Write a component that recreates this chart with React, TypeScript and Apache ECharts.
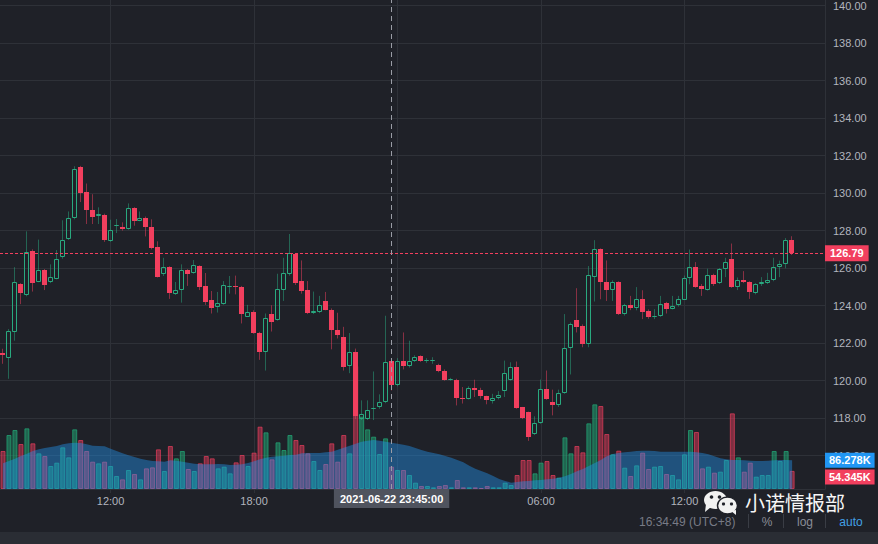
import React, { useEffect, useRef } from "react";
import * as echarts from "echarts";

// ---- time axis ----
const START_MINUTES = 7 * 60 + 30; // first candle 07:30
const STEP_MINUTES = 15;
const SLOT_COUNT = 138; // candles + empty space on the right
const TICK_LABELS = ["12:00", "18:00", "06:00"];
const GRID_TIMES = ["00:00", "06:00", "12:00", "18:00"];

// ---- price candles ----
const OPEN = [121.45,121.2,122.62,125.14,124.55,126.9,125.28,125.88,125.24,125.44,126.6,127.56,128.67,131.41,130.08,129.11,128.78,128.81,127.42,128.22,128.21,128.11,129.22,128.53,128.69,128.21,127.12,125.7,126.05,124.64,124.82,125.88,125.72,126.09,125.03,124.29,123.95,124.11,125.0,125.05,124.98,123.42,123.67,122.54,121.51,123.55,123.23,124.82,125.7,126.74,125.31,124.84,123.63,123.68,124.25,123.78,122.71,122.34,120.77,121.55,117.97,117.98,118.5,118.59,118.86,121.05,119.76,121.07,120.77,121.03,121.32,121.05,121.03,120.86,120.54,120.03,120.06,119.07,119.04,119.62,119.48,119.16,118.91,119.07,119.44,120.05,120.75,118.58,118.31,117.18,117.75,119.57,118.88,118.7,119.36,121.74,123.23,122.91,121.96,125.5,127.0,125.26,124.82,125.26,123.55,124.04,123.9,124.34,123.71,123.42,123.44,124.13,123.84,124.02,124.32,125.46,126.05,125.05,124.85,125.63,125.22,125.93,126.46,125.01,125.37,125.26,124.69,125.14,125.22,125.38,126.05,126.2,127.52];
const CLOSE = [121.35,122.65,125.26,124.69,126.85,125.22,125.88,125.1,125.52,126.51,127.52,128.69,131.29,129.99,129.09,128.72,128.86,127.5,128.02,128.3,128.09,129.22,128.53,128.69,128.21,127.08,125.54,126.05,124.69,124.84,125.88,125.7,126.15,125.01,124.22,123.9,124.13,125.08,125.05,125.0,123.53,123.65,122.52,121.51,123.33,123.15,124.87,125.72,126.83,125.22,124.78,123.63,123.7,124.02,123.79,122.68,122.41,120.72,121.55,118.1,118.24,118.46,118.56,118.88,121.0,119.76,121.05,120.77,121.07,121.28,121.03,121.08,121.12,120.5,120.05,120.07,119.07,119.02,119.62,119.48,119.18,118.95,119.06,119.25,120.42,120.75,118.54,118.01,117.0,117.75,119.57,119.02,118.7,119.36,121.74,123.02,122.84,121.96,125.61,127.0,125.28,124.82,125.26,123.55,124.04,123.9,124.34,123.65,123.42,123.46,124.08,123.84,124.0,124.34,125.46,126.05,125.01,124.9,125.63,125.14,125.93,126.32,125.01,125.37,125.26,124.73,125.14,125.26,125.35,126.05,126.21,127.52,126.79];
const HIGH = [121.7,122.75,126.05,125.2,127.96,127.0,127.52,125.95,126.2,126.96,128.55,129.02,131.43,131.45,130.51,129.94,129.24,128.9,128.58,128.62,128.44,129.45,129.25,129.02,128.75,128.6,127.43,126.55,126.1,125.26,126.2,125.95,126.43,126.15,125.74,124.78,124.73,125.31,125.58,125.6,125.05,124.04,123.75,122.6,123.58,124.02,125.7,126.55,127.82,126.8,126.41,125.31,124.75,124.52,124.73,123.85,123.62,122.87,122.54,121.71,118.95,118.95,120.49,119.27,123.46,121.1,121.2,122.57,122.13,121.35,121.35,121.2,121.25,120.9,120.6,120.15,120.1,119.66,119.7,120.05,119.62,119.2,119.3,119.44,121.07,120.98,121.02,118.6,118.35,118.1,120.06,120.54,119.52,119.52,123.55,123.1,124.93,123.0,126.11,127.49,127.05,126.41,125.35,125.3,124.1,124.52,124.99,124.82,123.8,123.81,124.52,124.2,124.52,124.52,125.6,126.99,126.32,125.15,125.97,125.7,126.0,126.55,127.31,125.5,125.84,125.3,125.2,125.52,125.75,126.55,126.4,127.6,127.7];
const LOW = [120.9,120.1,122.13,124.08,124.5,124.75,125.25,124.83,125.2,125.4,126.5,127.5,128.6,129.52,128.35,128.35,128.35,127.4,127.4,127.87,128.0,128.05,128.26,128.5,127.69,127.0,125.5,125.58,124.36,124.57,124.16,125.05,125.7,124.83,124.04,123.58,123.63,124.05,124.64,124.6,123.05,123.4,122.5,121.11,120.54,122.62,123.2,124.25,125.6,125.1,124.64,123.55,123.55,123.6,123.75,121.67,122.25,120.54,120.4,117.95,117.9,117.9,117.9,118.5,118.8,119.48,119.7,120.6,120.7,121.0,121.0,120.95,120.9,120.45,120.0,120.0,118.68,118.78,119.0,119.13,119.04,118.74,118.78,119.0,119.13,120.0,118.5,117.95,116.79,117.1,117.7,118.98,118.15,118.6,119.3,120.33,122.57,121.78,121.78,124.22,124.34,124.25,124.25,123.5,123.47,123.76,123.75,123.28,123.3,123.28,123.4,123.58,123.8,123.95,124.3,125.14,124.95,124.52,124.8,125.05,125.15,125.52,124.95,124.83,125.2,124.36,124.6,125.05,125.15,125.3,125.52,125.99,126.7];

// ---- volume (thousands) and its moving average ----
const VOLUME = [114,162,177,135,182,137,107,99,69,79,125,95,179,147,114,82,77,82,69,39,29,57,45,29,62,65,119,54,129,92,114,60,54,77,99,92,62,67,47,80,102,69,109,187,170,89,140,117,162,147,132,107,84,57,75,137,82,162,107,369,217,179,157,105,152,67,57,57,42,19,9,9,5,9,12,5,27,5,5,5,3,9,5,5,19,12,42,87,87,47,79,84,42,34,155,107,129,110,197,254,249,165,104,115,64,39,71,109,60,67,69,45,42,29,104,177,171,62,67,49,52,87,227,95,52,79,37,42,42,114,84,114,54.345];
const VOLUME_MA = [77,84,91,99,106,114,119,123,126,129,134,137,139,138,134,130,129,128,121,114,107,101,96,91,87,84,83,82,86,85,82,79,76,74,74,74,75,74,72,73,74,78,83,89,94,97,98,100,102,103,107,108,108,108,110,112,118,124,130,136,142,145,147,145,142,139,136,133,129,123,117,112,108,104,99,94,87,80,70,61,54,47,39,30,24,19,21,23,24,26,27,29,31,34,38,45,53,60,69,78,87,98,105,108,110,112,114,115,115,114,112,112,112,112,112,112,110,108,104,98,92,89,87,87,86,85,84,84,85,86,87,87,86.278];

const LAST_PRICE = 126.79;
const CROSSHAIR_INDEX = 65;
const CROSSHAIR_LABEL = "2021-06-22 23:45:00";
const STATUS_TIME = "16:34:49 (UTC+8)";
const WATERMARK = "小诺情报部";

const BG = "#1f2128";
const GRID = "#2e3138";
const AXIS_TEXT = "#b2b5be";
const UP = "#29a97f";
const DOWN = "#f23f5e";
const UP_WICK = "rgba(41,169,127,0.5)";
const DOWN_WICK = "rgba(242,63,94,0.5)";
const FONT = "Liberation Sans, Arial, sans-serif";

function pad(n: number) {
  return n < 10 ? "0" + n : String(n);
}
const CATEGORIES: string[] = [];
for (let k = 0; k < SLOT_COUNT; k++) {
  const m = (START_MINUTES + k * STEP_MINUTES) % 1440;
  CATEGORIES.push(pad(Math.floor(m / 60)) + ":" + pad(m % 60));
}

function boxLabel(text: string, bg: string, pos: string, extra: any = {}) {
  return {
    show: true,
    position: pos,
    distance: 0,
    formatter: () => text,
    backgroundColor: bg,
    color: "#ffffff",
    fontSize: 11,
    fontWeight: "bold",
    fontFamily: FONT,
    padding: [2, 5, 2, 5],
    ...extra,
  };
}

export default function App() {
  const ref = useRef<HTMLDivElement>(null);
  useEffect(() => {
    if (!ref.current) return;
    const chart = echarts.init(ref.current, undefined, { renderer: "svg" });

    const candleData = OPEN.map((o, i) => [i, o, CLOSE[i], LOW[i], HIGH[i]]);
    const volData = VOLUME.map((v, i) => {
      const up = CLOSE[i] >= OPEN[i];
      return {
        value: v,
        itemStyle: {
          color: up ? "rgba(34,171,120,0.5)" : "rgba(242,63,95,0.45)",
          borderColor: up ? "rgba(34,171,120,0.7)" : "rgba(242,63,95,0.65)",
          borderWidth: 1,
        },
      };
    });
    const lastVol = VOLUME[VOLUME.length - 1];
    const lastMa = VOLUME_MA[VOLUME_MA.length - 1];

    const isLabel = (i: number) => TICK_LABELS.indexOf(CATEGORIES[i]) >= 0;
    const isGrid = (i: number) => GRID_TIMES.indexOf(CATEGORIES[i]) >= 0;

    const option: any = {
      animation: false,
      backgroundColor: BG,
      grid: [
        { left: -3, width: 828, top: 3, height: 452.7 },
        { left: -3, width: 828, top: 0, height: 489 },
      ],
      xAxis: [
        { type: "category", gridIndex: 0, data: CATEGORIES, boundaryGap: true, show: false },
        {
          type: "category",
          gridIndex: 1,
          data: CATEGORIES,
          boundaryGap: true,
          axisLine: { show: true, lineStyle: { color: GRID } },
          axisTick: {
            show: true,
            alignWithLabel: true,
            length: 4,
            interval: (i: number) => isLabel(i),
            lineStyle: { color: GRID },
          },
          axisLabel: {
            interval: (i: number) => isLabel(i),
            color: AXIS_TEXT,
            fontSize: 11,
            fontFamily: FONT,
            margin: 6,
          },
          splitLine: {
            show: true,
            alignWithLabel: true,
            interval: (i: number) => isGrid(i),
            lineStyle: { color: GRID, width: 1 },
          },
        },
      ],
      yAxis: [
        {
          type: "value",
          gridIndex: 0,
          position: "right",
          min: 116,
          max: 140,
          interval: 2,
          axisLine: { show: false },
          axisTick: { show: false },
          axisLabel: {
            color: AXIS_TEXT,
            fontSize: 11,
            fontFamily: FONT,
            margin: 8,
            formatter: (v: number) => v.toFixed(2),
          },
          splitLine: { show: true, lineStyle: { color: GRID, width: 1 } },
        },
        {
          type: "value",
          gridIndex: 1,
          position: "right",
          min: 0,
          max: 1467,
          axisLine: { show: true, lineStyle: { color: GRID } },
          axisTick: { show: false },
          axisLabel: { show: false },
          splitLine: { show: false },
        },
      ],
      series: [
        {
          type: "bar",
          name: "volume",
          xAxisIndex: 1,
          yAxisIndex: 1,
          data: volData,
          barWidth: 5,
          z: 1,
        },
        {
          type: "line",
          name: "volume ma",
          xAxisIndex: 1,
          yAxisIndex: 1,
          data: VOLUME_MA,
          symbol: "none",
          lineStyle: { width: 0 },
          areaStyle: { color: "rgba(33,150,243,0.42)", opacity: 1 },
          z: 2,
        },
        {
          type: "custom",
          name: "price",
          xAxisIndex: 0,
          yAxisIndex: 0,
          data: candleData,
          encode: { x: 0, y: [1, 2, 3, 4] },
          clip: true,
          z: 3,
          renderItem: (params: any, api: any) => {
            const idx = api.value(0);
            const o = api.value(1);
            const c = api.value(2);
            const l = api.value(3);
            const h = api.value(4);
            const pO = api.coord([idx, o]);
            const pC = api.coord([idx, c]);
            const pL = api.coord([idx, l]);
            const pH = api.coord([idx, h]);
            const cx = Math.round(pO[0]);
            const up = c >= o;
            const top = Math.round(Math.min(pO[1], pC[1]));
            let bot = Math.round(Math.max(pO[1], pC[1]));
            if (bot - top < 1) bot = top + 1;
            const wx = cx - 0.5;
            const wick = up ? UP_WICK : DOWN_WICK;
            const children: any[] = [];
            if (pH[1] < top) {
              children.push({
                type: "line",
                shape: { x1: wx, y1: pH[1], x2: wx, y2: top },
                style: { stroke: wick, lineWidth: 1 },
              });
            }
            if (pL[1] > bot) {
              children.push({
                type: "line",
                shape: { x1: wx, y1: bot, x2: wx, y2: pL[1] },
                style: { stroke: wick, lineWidth: 1 },
              });
            }
            if (up) {
              children.push({
                type: "rect",
                shape: { x: cx - 2.5, y: top + 0.5, width: 4, height: Math.max(bot - top - 1, 0) },
                style: { fill: "transparent", stroke: UP, lineWidth: 1 },
              });
            } else {
              children.push({
                type: "rect",
                shape: { x: cx - 3, y: top, width: 5, height: bot - top },
                style: { fill: DOWN },
              });
            }
            return { type: "group", children };
          },
        },
        {
          // last price dashed line, pixel-aligned
          type: "custom",
          name: "last price line",
          xAxisIndex: 0,
          yAxisIndex: 0,
          data: [[0, LAST_PRICE]],
          encode: { x: 0, y: 1 },
          clip: false,
          z: 4,
          renderItem: (params: any, api: any) => {
            const p = api.coord([0, api.value(1)]);
            const y = Math.round(p[1]) + 0.5;
            const cs = params.coordSys;
            return {
              type: "line",
              shape: { x1: cs.x, y1: y, x2: cs.x + cs.width, y2: y },
              style: { stroke: DOWN, lineWidth: 1, lineDash: [3, 2] },
            };
          },
        },
        {
          // last price label
          type: "line",
          name: "last price",
          xAxisIndex: 0,
          yAxisIndex: 0,
          data: [],
          z: 5,
          markLine: {
            silent: true,
            symbol: ["none", "none"],
            lineStyle: { color: "transparent", width: 0 },
            label: boxLabel(LAST_PRICE.toFixed(2), DOWN, "end", { padding: [3, 5, 2, 5] }),
            data: [{ yAxis: LAST_PRICE }],
          },
        },
        {
          // volume + volume MA last value labels
          type: "line",
          name: "volume labels",
          xAxisIndex: 1,
          yAxisIndex: 1,
          data: [],
          z: 6,
          markLine: {
            silent: true,
            symbol: ["none", "none"],
            lineStyle: { color: "transparent", width: 0 },
            data: [
              {
                yAxis: lastMa,
                label: boxLabel(lastMa.toFixed(3) + "K", "#2196f3", "end", { padding: [2, 4, 2, 4] }),
                lineStyle: { color: "transparent", width: 0 },
              },
              {
                yAxis: lastVol,
                label: boxLabel(lastVol.toFixed(3) + "K", DOWN, "end", { padding: [2, 4, 2, 4], offset: [0, 6] }),
                lineStyle: { color: "transparent", width: 0 },
              },
            ],
          },
        },
        {
          type: "line",
          name: "crosshair",
          xAxisIndex: 1,
          yAxisIndex: 1,
          data: [],
          z: 10,
          markLine: {
            silent: true,
            symbol: ["none", "none"],
            lineStyle: { color: "#9a9da6", type: [5, 4], width: 1 },
            label: boxLabel(CROSSHAIR_LABEL, "#4f535e", "start", { padding: [4, 6, 4, 6] }),
            data: [{ xAxis: CROSSHAIR_INDEX }],
          },
        },
      ],
      graphic: [
        { type: "rect", shape: { x: 0, y: 532, width: 878, height: 12 }, style: { fill: "#2a2d34" } },
        {
          type: "text",
          x: 639,
          y: 522,
          style: { text: STATUS_TIME, fill: "#787b86", font: "12px " + FONT, textVerticalAlign: "middle" },
        },
        { type: "line", shape: { x1: 748.5, y1: 514, x2: 748.5, y2: 528 }, style: { stroke: "#3a3d45", lineWidth: 1 } },
        { type: "line", shape: { x1: 783.5, y1: 514, x2: 783.5, y2: 528 }, style: { stroke: "#3a3d45", lineWidth: 1 } },
        { type: "line", shape: { x1: 825.5, y1: 514, x2: 825.5, y2: 528 }, style: { stroke: "#3a3d45", lineWidth: 1 } },
        {
          type: "text",
          x: 767,
          y: 522,
          style: { text: "%", fill: "#8a8d96", font: "12px " + FONT, textAlign: "center", textVerticalAlign: "middle" },
        },
        {
          type: "text",
          x: 805,
          y: 522,
          style: { text: "log", fill: "#8a8d96", font: "12px " + FONT, textAlign: "center", textVerticalAlign: "middle" },
        },
        {
          type: "text",
          x: 851,
          y: 522,
          style: { text: "auto", fill: "#42a0e6", font: "12px " + FONT, textAlign: "center", textVerticalAlign: "middle" },
        },
        // watermark: WeChat-like logo + text
        {
          type: "group",
          z: 100,
          children: [
            { type: "ellipse", shape: { cx: 715.5, cy: 500, rx: 11.5, ry: 9 }, style: { fill: "#f2f2f2" } },
            { type: "polygon", shape: { points: [[706, 504], [711, 507], [705, 512]] }, style: { fill: "#f2f2f2" } },
            { type: "circle", shape: { cx: 711.5, cy: 497, r: 1.8 }, style: { fill: BG } },
            { type: "circle", shape: { cx: 719.5, cy: 497, r: 1.8 }, style: { fill: BG } },
            { type: "ellipse", shape: { cx: 727.5, cy: 505.5, rx: 10, ry: 8.5 }, style: { fill: "#f2f2f2", stroke: BG, lineWidth: 1.5 } },
            { type: "polygon", shape: { points: [[731, 511], [736, 510], [736, 515]] }, style: { fill: "#f2f2f2" } },
            { type: "circle", shape: { cx: 723.5, cy: 504, r: 1.6 }, style: { fill: BG } },
            { type: "circle", shape: { cx: 731.5, cy: 504, r: 1.6 }, style: { fill: BG } },
            {
              type: "text",
              x: 745,
              y: 502,
              style: {
                text: WATERMARK,
                fill: "#f5f5f5",
                font: "20px 'Noto Sans CJK SC', sans-serif",
                textVerticalAlign: "middle",
              },
            },
          ],
        },
      ],
    };

    chart.setOption(option);
    return () => chart.dispose();
  }, []);

  return <div ref={ref} style={{ position: "fixed", left: 0, top: 0, width: 878, height: 544 }} />;
}
